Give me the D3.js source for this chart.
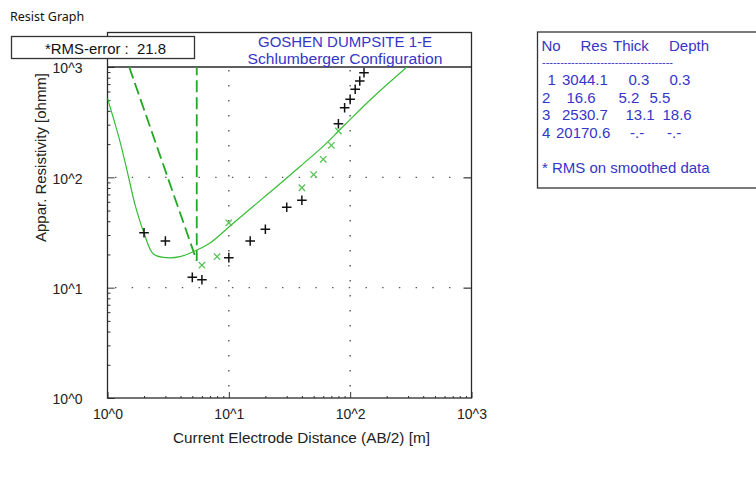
<!DOCTYPE html>
<html><head><meta charset="utf-8">
<script src="https://cdn.jsdelivr.net/npm/d3@7"></script>
<style>
html,body{margin:0;padding:0;background:#ffffff;}
svg text{font-family:"Liberation Sans",Arial,sans-serif;}
</style></head>
<body>
<svg id="chart" width="756" height="483"></svg>
<script>
// ---------- data ----------
const obsAB2 = [2, 3, 5, 6, 10, 15, 20, 30, 40, 80, 90, 100, 110, 120, 130];
const obsRho = [31.5, 26.5, 12.4, 11.8, 18.7, 26.5, 33.8, 53.6, 62, 306, 427, 509, 628, 747, 888];

const smAB2 = [6, 8, 10, 40, 50, 60, 70, 80];
const smRho = [16, 19.1, 38.7, 80.5, 106, 145.5, 195, 263];

const curveAB2 = [1.0, 1.27, 1.51, 1.69, 2.0, 2.39, 3.08, 3.96, 5.44, 7.0, 10.23, 14.95, 20.5, 28.1, 38.6, 60.1, 90.8, 155, 294];
const curveRho = [520, 210, 94.6, 56, 31.3, 20.2, 18.7, 19.1, 21.9, 25.4, 36.2, 51.6, 69.1, 92.6, 125.3, 192, 301, 535, 1000];

const modelAB2 = [1.51, 5.44, 5.44];
const modelRho = [1000, 17.5, 1000];

const decadeTicks = [1, 10, 100, 1000];
const decadeLabels = ["10^0", "10^1", "10^2", "10^3"];

const layerNo = ["1", "2", "3", "4"];
const layerRes = ["3044.1", "16.6", "2530.7", "20170.6"];
const layerThick = ["0.3", "5.2", "13.1", "-.-"];
const layerDepth = ["0.3", "5.5", "18.6", "-.-"];

const rmsError = "21.8";
const titleLines = ["GOSHEN DUMPSITE 1-E", "Schlumberger Configuration"];

// ---------- layout ----------
const svg = d3.select("#chart");
const L = 107.5, R = 471.5, T = 67, B = 398, FT = 32.5;
const blue = "#3535c8";

const x = d3.scaleLog().domain([1, 1000]).range([L, R]);
const y = d3.scaleLog().domain([1, 1000]).range([B, T]);

// window caption
svg.append("text").attr("x", 10).attr("y", 20.5).attr("font-size", 12.5)
  .style("font-family", "'Noto Sans','Open Sans',sans-serif").attr("fill", "#111").text("Resist Graph");

// clip
svg.append("clipPath").attr("id", "clip").append("rect")
  .attr("x", L).attr("y", T).attr("width", R - L).attr("height", B - T);

// tick values
const allTicks = [];
for (let e = 0; e < 3; e++) for (let k = 1; k <= 9; k++) allTicks.push(k * Math.pow(10, e));
allTicks.push(1000);

// grid dotted lines at decades
const gridG = svg.append("g");
[10, 100].forEach(v => {
  gridG.append("line").attr("x1", x(v)).attr("x2", x(v)).attr("y1", T + 3).attr("y2", B)
    .attr("stroke", "#555").attr("stroke-width", 1.4).attr("stroke-dasharray", "1.4,13.6");
  gridG.append("line").attr("x1", L + 7.5).attr("x2", R - 8).attr("y1", y(v)).attr("y2", y(v))
    .attr("stroke", "#555").attr("stroke-width", 1.4).attr("stroke-dasharray", "1.4,15.3");
});

// bottom axis
const fmt = v => { const i = decadeTicks.indexOf(v); return i >= 0 ? decadeLabels[i] : ""; };
const xAxis = d3.axisBottom(x).tickValues(allTicks).tickFormat(fmt).tickSize(-2).tickPadding(11);
const gx = svg.append("g").attr("transform", `translate(0,${B})`).call(xAxis);
gx.select(".domain").remove();
gx.selectAll(".tick line").attr("stroke", "#333")
  .attr("y2", d => decadeTicks.includes(d) ? -6 : -2);
gx.selectAll(".tick text").attr("font-size", 14).attr("fill", "#222")
  .style("font-family", "'Liberation Sans',Arial,sans-serif");

// left axis
const yAxis = d3.axisLeft(y).tickValues(allTicks).tickFormat(fmt).tickSize(-3).tickPadding(25);
const gy = svg.append("g").attr("transform", `translate(${L},0)`).call(yAxis);
gy.select(".domain").remove();
gy.selectAll(".tick line").attr("stroke", "#333")
  .attr("x2", d => decadeTicks.includes(d) ? 7 : 3);
gy.selectAll(".tick text").attr("font-size", 14).attr("fill", "#222").attr("dy", "0.42em")
  .style("font-family", "'Liberation Sans',Arial,sans-serif");

// right axis major ticks
const yAxisR = d3.axisRight(y).tickValues([10, 100]).tickFormat("").tickSize(-8);
const gyr = svg.append("g").attr("transform", `translate(${R},0)`).call(yAxisR);
gyr.select(".domain").remove();
gyr.selectAll(".tick line").attr("stroke", "#444").attr("stroke-width", 1.3);

// frame
svg.append("rect").attr("x", L).attr("y", FT).attr("width", R - L).attr("height", B - FT)
  .attr("fill", "none").attr("stroke", "#2a2a2a").attr("stroke-width", 1.3);
svg.append("line").attr("x1", L).attr("x2", R).attr("y1", T).attr("y2", T)
  .attr("stroke", "#2a2a2a").attr("stroke-width", 1.3);

// title
const titleW = [174, 195];
titleLines.forEach((t, i) => {
  svg.append("text").attr("x", 345).attr("y", 47 + i * 16.5).attr("text-anchor", "middle")
    .attr("font-size", 14).attr("fill", blue)
    .attr("textLength", titleW[i]).attr("lengthAdjust", "spacingAndGlyphs").text(t);
});

// plot marks
const plot = svg.append("g").attr("clip-path", "url(#clip)");

const line = d3.line().x(d => x(d[0])).y(d => y(d[1]));
plot.append("path").datum(modelAB2.map((v, i) => [v, modelRho[i]]))
  .attr("d", line).attr("fill", "none").attr("stroke", "#22a822").attr("stroke-width", 1.8)
  .attr("stroke-dasharray", "12,5");
plot.append("path").datum(curveAB2.map((v, i) => [v, curveRho[i]]))
  .attr("d", d3.line().curve(d3.curveCatmullRom.alpha(0.5)).x(d => x(d[0])).y(d => y(d[1])))
  .attr("fill", "none").attr("stroke", "#35bd35").attr("stroke-width", 1.2);

// smoothed data (green x)
const sx = 3.2;
plot.selectAll(".sm").data(smAB2.map((v, i) => [v, smRho[i]])).enter().append("path")
  .attr("d", d => {
    const cx = x(d[0]), cy = y(d[1]);
    return `M${cx - sx},${cy - sx}L${cx + sx},${cy + sx}M${cx - sx},${cy + sx}L${cx + sx},${cy - sx}`;
  }).attr("stroke", "#55c455").attr("stroke-width", 1.3).attr("fill", "none");

// observed data (black +)
const px = 4.8;
plot.selectAll(".obs").data(obsAB2.map((v, i) => [v, obsRho[i]])).enter().append("path")
  .attr("d", d => {
    const cx = x(d[0]), cy = y(d[1]);
    return `M${cx - px},${cy}L${cx + px},${cy}M${cx},${cy - px}L${cx},${cy + px}`;
  }).attr("stroke", "#111").attr("stroke-width", 1.5).attr("fill", "none");

// axis titles
svg.append("text").attr("x", 301.5).attr("y", 443).attr("text-anchor", "middle")
  .attr("font-size", 14).attr("fill", "#222")
  .attr("textLength", 257).attr("lengthAdjust", "spacingAndGlyphs")
  .text("Current Electrode Distance (AB/2) [m]");
svg.append("text").attr("transform", "translate(45.5,157.5) rotate(-90)").attr("text-anchor", "middle")
  .attr("font-size", 14).attr("fill", "#222")
  .attr("textLength", 169).attr("lengthAdjust", "spacingAndGlyphs")
  .text("Appar. Resistivity [ohmm]");

// RMS box
svg.append("rect").attr("x", 11.5).attr("y", 36.5).attr("width", 183).attr("height", 22)
  .attr("fill", "#ffffff").attr("stroke", "#333").attr("stroke-width", 1.3);
svg.append("text").attr("x", 105.5).attr("y", 53.5).attr("text-anchor", "middle")
  .attr("font-size", 15).attr("fill", "#111").style("white-space", "pre")
  .attr("textLength", 121).attr("lengthAdjust", "spacingAndGlyphs")
  .text("*RMS-error :  " + rmsError);

// layer table
svg.append("rect").attr("x", 537.5).attr("y", 32).attr("width", 240).attr("height", 156)
  .attr("fill", "#ffffff").attr("stroke", "#333").attr("stroke-width", 1.3);
const tg = svg.append("g").attr("fill", blue).attr("font-size", 15);
const hdr = [["No", 541.5], ["Res", 580.5], ["Thick", 613], ["Depth", 669]];
hdr.forEach(h => tg.append("text").attr("x", h[1]).attr("y", 51).text(h[0]));
tg.append("text").attr("x", 542).attr("y", 66).attr("font-size", 11).attr("textLength", 131)
  .text("------------------------------------");
const rowY = [85, 102.5, 120, 137.5];
const noX = [547.5, 542, 542, 542];
const resX = [562, 566.5, 562, 556];
const thX = [628.5, 618.5, 625.5, 630];
const dpX = [669.5, 649.5, 662.5, 667];
layerNo.forEach((n, i) => {
  tg.append("text").attr("x", noX[i]).attr("y", rowY[i]).text(n);
  tg.append("text").attr("x", resX[i]).attr("y", rowY[i]).text(layerRes[i]);
  tg.append("text").attr("x", thX[i]).attr("y", rowY[i]).text(layerThick[i]);
  tg.append("text").attr("x", dpX[i]).attr("y", rowY[i]).text(layerDepth[i]);
});
tg.append("text").attr("x", 542).attr("y", 172.5).text("* RMS on smoothed data");
</script>
</body></html>
